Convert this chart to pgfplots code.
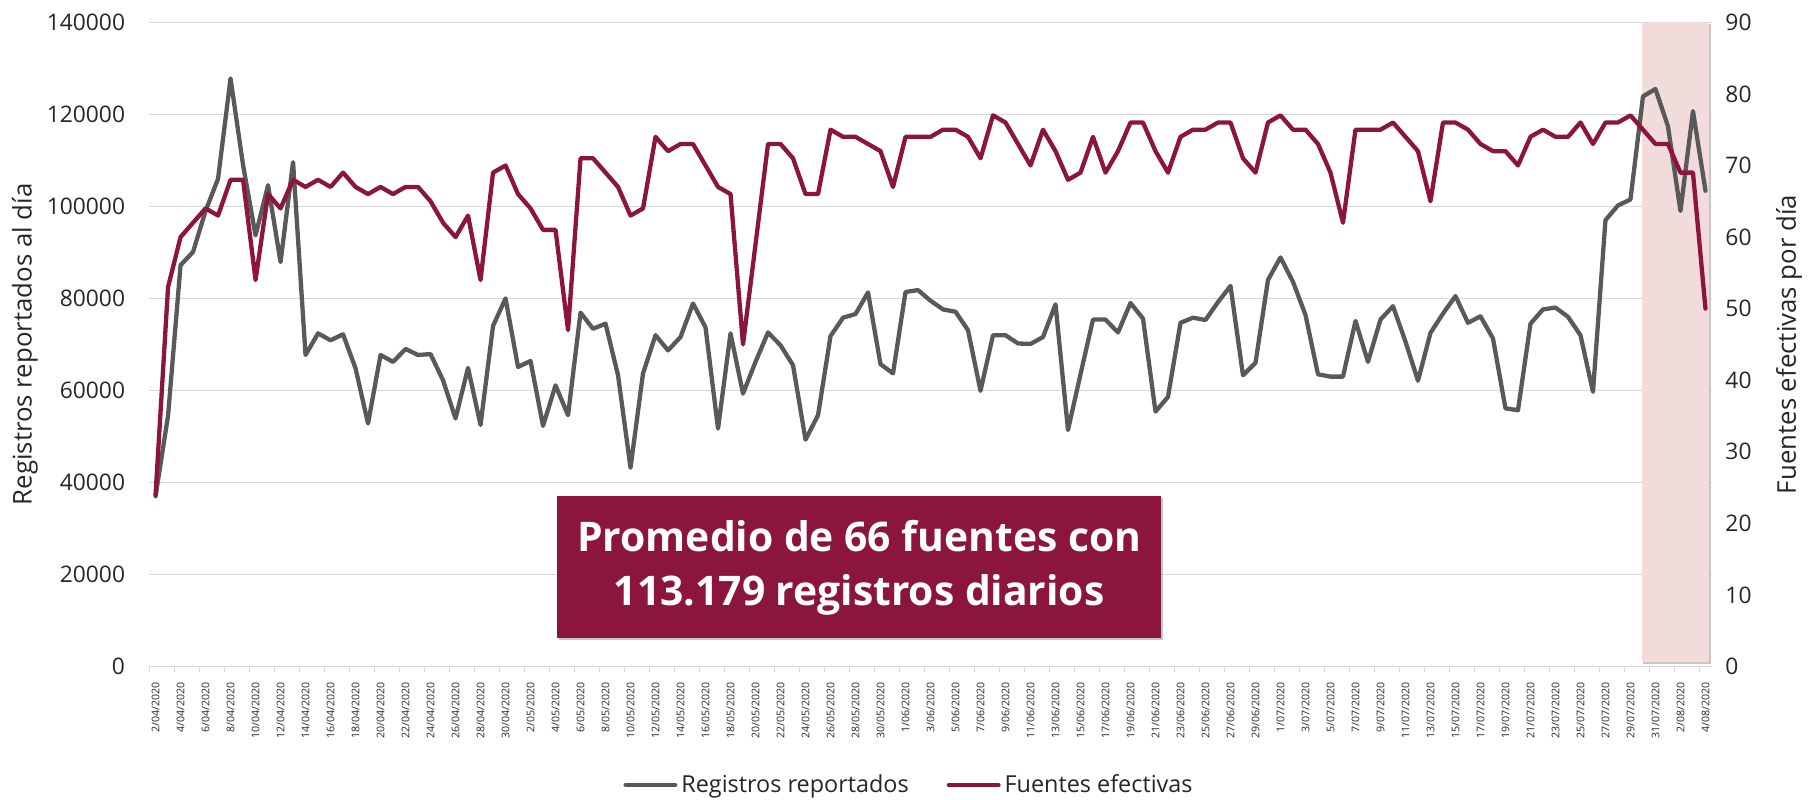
\documentclass[border=0pt]{standalone}
\usepackage{fontspec}
\setmainfont{Open Sans}
\usepackage{pgfplots}
\pgfplotsset{compat=1.18}
\usepackage{pgfplotstable}

\definecolor{regGray}{RGB}{89,89,89}
\definecolor{fuenRed}{RGB}{140,21,62}
\definecolor{gridGray}{RGB}{217,217,217}
\definecolor{shadePink}{RGB}{242,220,219}

\pgfplotstableread{
i reg fue
0 37000 24
1 54500 53
2 87200 60
3 90100 62
4 99000 64
5 106000 63
6 127800 68
7 109000 68
8 93700 54
9 104600 66
10 87900 64
11 109600 68
12 67700 67
13 72400 68
14 70900 67
15 72200 69
16 64800 67
17 52800 66
18 67700 67
19 66200 66
20 69000 67
21 67700 67
22 67900 65
23 62200 62
24 53900 60
25 64900 63
26 52500 54
27 74000 69
28 80000 70
29 65100 66
30 66400 64
31 52300 61
32 61100 61
33 54600 47
34 76900 71
35 73400 71
36 74500 69
37 63300 67
38 43200 63
39 63700 64
40 72000 74
41 68700 72
42 71600 73
43 78900 73
44 73700 70
45 51700 67
46 72400 66
47 59300 45
48 66200 59
49 72600 73
50 69800 73
51 65500 71
52 49300 66
53 54600 66
54 71800 75
55 75800 74
56 76600 74
57 81300 73
58 65700 72
59 63700 67
60 81400 74
61 81800 74
62 79500 74
63 77600 75
64 77100 75
65 73100 74
66 59900 71
67 72000 77
68 72000 76
69 70200 73
70 70100 70
71 71600 75
72 78700 72
73 51400 68
74 63500 69
75 75400 74
76 75400 69
77 72600 72
78 79000 76
79 75600 76
80 55400 72
81 58600 69
82 74700 74
83 75800 75
84 75300 75
85 79200 76
86 82700 76
87 63300 71
88 66000 69
89 84000 76
90 88900 77
91 83600 75
92 76400 75
93 63500 73
94 63000 69
95 63000 62
96 75100 75
97 66200 75
98 75400 75
99 78300 76
100 70600 74
101 62100 72
102 72500 65
103 76700 76
104 80500 76
105 74700 75
106 76100 73
107 71300 72
108 56100 72
109 55700 70
110 74500 74
111 77600 75
112 78000 74
113 76000 74
114 72000 76
115 59700 73
116 97000 76
117 100200 76
118 101500 77
119 123900 75
120 125500 73
121 117400 73
122 99000 69
123 120700 69
124 103400 50
}\datatable

\begin{document}
\begin{tikzpicture}
\useasboundingbox (0,0) rectangle (904pt,399.5pt);
\begin{axis}[
  at={(74.65pt,66.25pt)}, anchor=south west,
  width=781.2pt, height=322.1pt, scale only axis,
  xmin=-0.5, xmax=124.5, ymin=0, ymax=140000,
  ytick={0,20000,...,140000},
  scaled y ticks=false,
  xtick={0,2,...,124},
  xticklabels={2/04/2020,4/04/2020,6/04/2020,8/04/2020,10/04/2020,12/04/2020,14/04/2020,16/04/2020,18/04/2020,20/04/2020,22/04/2020,24/04/2020,26/04/2020,28/04/2020,30/04/2020,
    2/05/2020,4/05/2020,6/05/2020,8/05/2020,10/05/2020,12/05/2020,14/05/2020,16/05/2020,18/05/2020,20/05/2020,22/05/2020,24/05/2020,26/05/2020,28/05/2020,30/05/2020,
    1/06/2020,3/06/2020,5/06/2020,7/06/2020,9/06/2020,11/06/2020,13/06/2020,15/06/2020,17/06/2020,19/06/2020,21/06/2020,23/06/2020,25/06/2020,27/06/2020,29/06/2020,
    1/07/2020,3/07/2020,5/07/2020,7/07/2020,9/07/2020,11/07/2020,13/07/2020,15/07/2020,17/07/2020,19/07/2020,21/07/2020,23/07/2020,25/07/2020,27/07/2020,29/07/2020,31/07/2020,
    2/08/2020,4/08/2020},
  minor xtick={-0.5,1.5,...,123.5},
  major tick length=0pt, minor tick length=2.5pt, tick align=outside,
  tick pos=left,
  tick style={gridGray, line width=0.6pt},
  axis line style={draw=none},
  ymajorgrids, major grid style={gridGray, line width=0.6pt},
  yticklabel style={font=\fontsize{11.4}{13}\selectfont, text=black!85,
    /pgf/number format/fixed, /pgf/number format/precision=0, /pgf/number format/1000 sep={}},
  yticklabel shift=8.6pt,
  xticklabel style={font=\fontsize{5.3}{6}\selectfont, rotate=90, anchor=east, text=black!85},
  xticklabel shift=4.2pt,
  /pgf/number format/assume math mode=true,
  /pgf/number format/fixed,
  /pgf/number format/precision=0,
  /pgf/number format/1000 sep={},
  every axis y label/.style={at={(axis description cs:-0.0796,0.5)}, rotate=90, anchor=center},
  ylabel={Registros reportados al día},
  ylabel style={font=\fontsize{12.9}{15}\selectfont, text=black!85},
  clip=false,
]
\fill[black!22] ([xshift=0.7pt,yshift=-0.9pt]axis cs:118.9,1040) rectangle ([xshift=0.7pt,yshift=-0.9pt]axis cs:124.3,140000);
\fill[shadePink] (axis cs:118.9,1040) rectangle (axis cs:124.3,140000);
\addplot[regGray, line width=2.15pt, line join=round, line cap=round] table[x=i,y=reg]{\datatable};
\end{axis}
\begin{axis}[
  at={(74.65pt,66.25pt)}, anchor=south west,
  width=781.2pt, height=322.1pt, scale only axis,
  xmin=-0.5, xmax=124.5, ymin=0, ymax=90,
  ytick={0,10,...,90},
  xtick=\empty,
  major tick length=0pt,
  ytick pos=right, yticklabel pos=right,
  axis line style={draw=none},
  yticklabel style={font=\fontsize{11.4}{13}\selectfont, text=black!85},
  yticklabel shift=3.35pt,
  /pgf/number format/assume math mode=true,
  every axis y label/.style={at={(axis description cs:1.0495,0.5)}, rotate=90, anchor=center},
  ylabel={Fuentes efectivas por día},
  ylabel style={font=\fontsize{12.9}{15}\selectfont, text=black!85},
  clip=false,
  legend columns=2,
  legend style={at={(axis description cs:0.4869,-0.1839)}, anchor=center, draw=none, fill=none,
    font=\fontsize{11.7}{14}\selectfont, text=black!85, inner sep=0pt,
    /tikz/every even column/.append style={column sep=17pt}},
  legend image code/.code={\draw[#1, line width=2.15pt, line cap=round] (1.1pt,0pt) -- (25.9pt,0pt);},
]
\addlegendimage{regGray}
\addlegendentry{Registros reportados}
\addplot[fuenRed, line width=2.15pt, line join=round, line cap=round] table[x=i,y=fue]{\datatable};
\addlegendentry{Fuentes efectivas}
\end{axis}
\fill[black, opacity=0.22] (279.5pt,79.3pt) rectangle (581.5pt,150.3pt);
\fill[fuenRed] (278.5pt,80.5pt) rectangle (580.5pt,151.5pt);
\node[text=white, font=\fontsize{20.4}{27}\selectfont\bfseries, align=center] at (429.6pt,115.5pt) {Promedio de 66 fuentes con\\113.179 registros diarios};
\end{tikzpicture}
\end{document}
